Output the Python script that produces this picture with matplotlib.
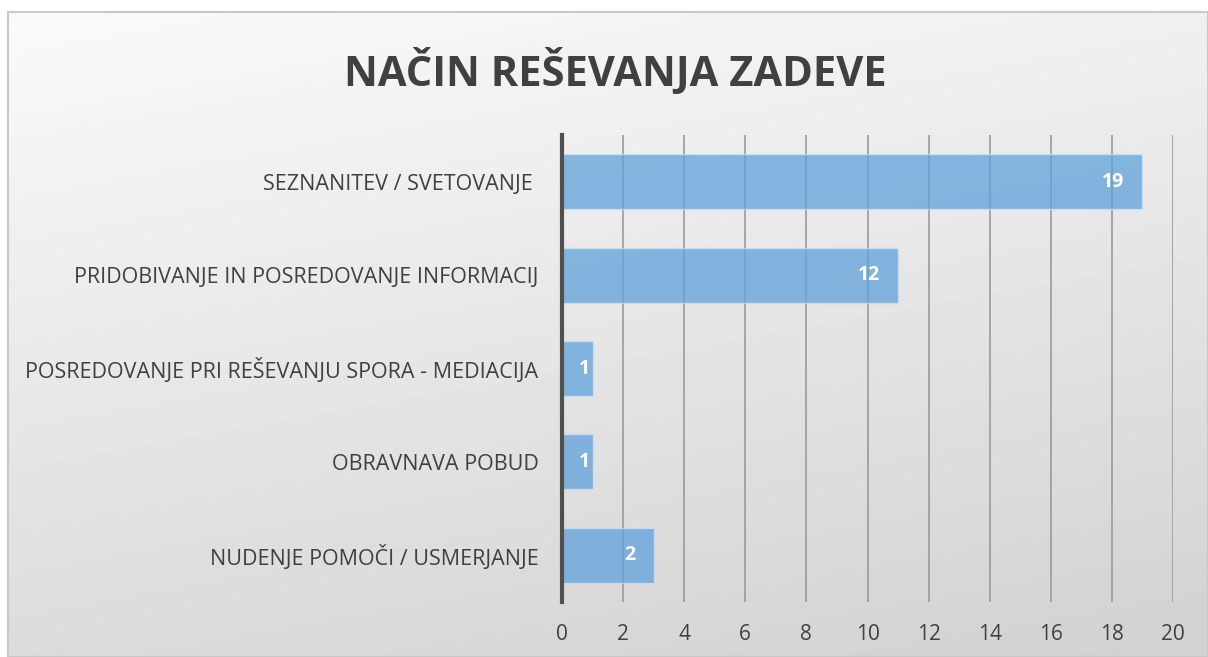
import numpy as np
import matplotlib.pyplot as plt
from matplotlib.patches import Rectangle

categories = ["SEZNANITEV / SVETOVANJE ",
              "PRIDOBIVANJE IN POSREDOVANJE INFORMACIJ",
              "POSREDOVANJE PRI REŠEVANJU SPORA - MEDIACIJA",
              "OBRAVNAVA POBUD",
              "NUDENJE POMOČI / USMERJANJE"]
bar_values = [19, 11, 1, 1, 3]
value_labels = ["19", "12", "1", "1", "2"]
x_ticks = [0, 2, 4, 6, 8, 10, 12, 14, 16, 18, 20]

plt.rcParams['font.family'] = ['Open Sans', 'DejaVu Sans']

W, H = 1208, 657
fig = plt.figure(figsize=(W / 100, H / 100), dpi=100)

# gradient background of the chart frame
bg = fig.add_axes([0, 0, 1, 1], zorder=0)
yy, xx = np.mgrid[0:1:200j, 0:1:300j]
grad = 0.98 - 0.16 * (0.75 * yy + 0.25 * xx)
bg.imshow(grad, cmap='gray', vmin=0, vmax=1, aspect='auto',
          extent=[8, W, H, 12], interpolation='bilinear')
bg.add_patch(Rectangle((8, 12), W - 8, H - 12, fill=False,
                       edgecolor='#c8c8c8', linewidth=1.5))
bg.set_xlim(0, W)
bg.set_ylim(H, 0)
bg.axis('off')

ax = fig.add_axes([562 / W, 1 - 602 / H, (1173 - 562) / W, (602 - 135) / H], zorder=1)
ax.patch.set_alpha(0)

y = np.arange(len(categories))
bars = ax.barh(y, bar_values, height=0.59, color='#5fa2db', alpha=0.75,
               edgecolor='#cfe3f5', linewidth=1, zorder=3)

for i, (v, lab) in enumerate(zip(bar_values, value_labels)):
    off = -13 if v >= 3 else -2
    ax.annotate(lab, (v, i), xytext=(off, 0), textcoords='offset points',
                ha='right', va='center', color='white', fontsize=14,
                fontweight='bold', zorder=4)

ax.set_ylim(len(categories) - 0.5, -0.5)
ax.set_xlim(0, 20)
ax.set_xticks(x_ticks)
ax.set_yticks(y)
ax.set_yticklabels(categories, fontsize=15.5, color='#404040')
ax.tick_params(axis='x', labelsize=15, labelcolor='#404040', length=0, pad=16)
ax.tick_params(axis='y', length=0, pad=17)
ax.grid(axis='x', color='#9a9a9a', linewidth=1.2, zorder=0)
for s in ['top', 'right', 'bottom']:
    ax.spines[s].set_visible(False)
ax.spines['left'].set_color('#505050')
ax.spines['left'].set_linewidth(3)
ax.spines['left'].set_zorder(5)

fig.text(615 / W, 1 - 72 / H, "NAČIN REŠEVANJA ZADEVE", ha='center', va='center',
         fontsize=30, fontweight='bold', color='#404040')

fig.savefig('out.png', dpi=100)
